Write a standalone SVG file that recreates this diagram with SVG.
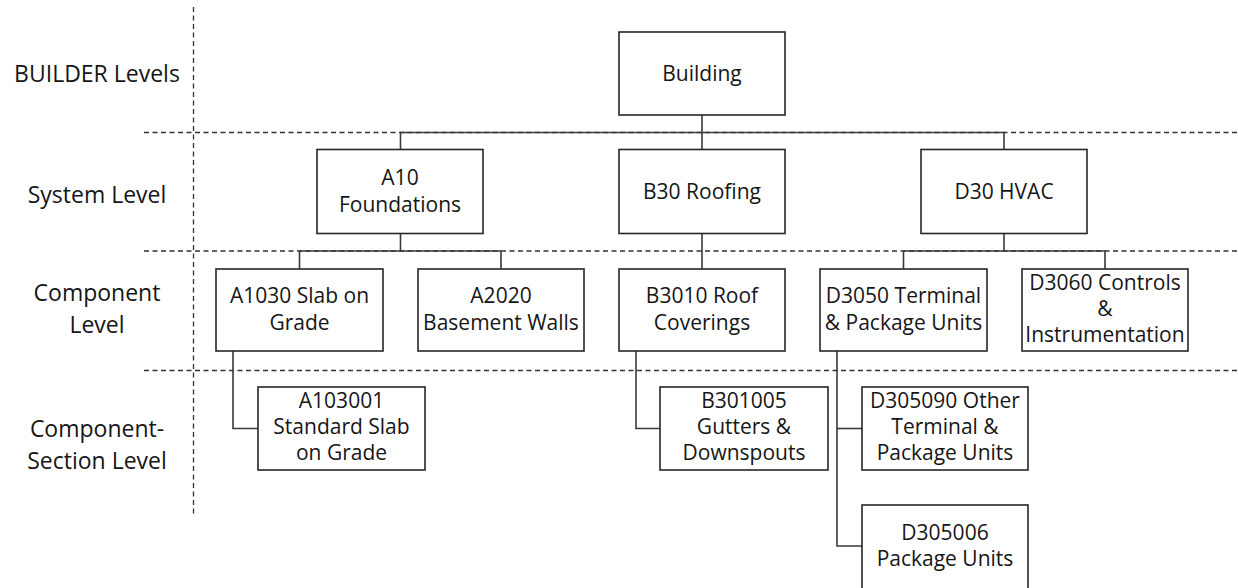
<svg xmlns="http://www.w3.org/2000/svg" width="1238" height="588" viewBox="0 0 1238 588">
<style>
.bg{fill:#ffffff}
.guide{stroke:#333333;stroke-width:1.3;stroke-dasharray:5 3.5;fill:none}
.conn{stroke:#3a3a3a;stroke-width:1.6;fill:none}
.box{fill:#ffffff;stroke:#262626;stroke-width:1.6}
.t{font-family:"Open Sans","Noto Sans","Liberation Sans",sans-serif;font-size:21px;fill:#161616;text-anchor:middle}
.lbl{font-family:"Open Sans","Noto Sans","Liberation Sans",sans-serif;font-size:23px;fill:#161616;text-anchor:middle}
</style>
<rect class="bg" x="0" y="0" width="1238" height="588"/>
<g id="guides">
<line class="guide" x1="193.5" y1="7" x2="193.5" y2="514"/>
<line class="guide" x1="144" y1="132.5" x2="1238" y2="132.5"/>
<line class="guide" x1="144" y1="251" x2="1238" y2="251"/>
<line class="guide" x1="144" y1="370.5" x2="1238" y2="370.5"/>
</g>
<g id="level-labels">
<text class="lbl" x="97" y="82">BUILDER Levels</text>
<text class="lbl" x="97" y="203">System Level</text>
<text class="lbl" x="97" y="301">Component</text>
<text class="lbl" x="97" y="333">Level</text>
<text class="lbl" x="97" y="437">Component-</text>
<text class="lbl" x="97" y="469">Section Level</text>
</g>
<g id="connectors">
<path class="conn" d="M702 115 V149.5"/>
<path class="conn" d="M400.5 149.5 V132.5 H1004 V149.5"/>
<path class="conn" d="M400.5 233.5 V251"/>
<path class="conn" d="M299.5 269 V251 H501 V269"/>
<path class="conn" d="M702 233.5 V269"/>
<path class="conn" d="M1004 233.5 V251"/>
<path class="conn" d="M903.5 269 V251 H1105 V269"/>
<path class="conn" d="M233 351 V428.5 H258"/>
<path class="conn" d="M636 351 V428.5 H660"/>
<path class="conn" d="M837 351 V546 H862"/>
<path class="conn" d="M837 428.5 H862"/>
</g>
<g id="building">
<rect class="box" x="619" y="32" width="166" height="83"/>
<text class="t" x="702" y="81">Building</text>
</g>
<g id="a10">
<rect class="box" x="317" y="149.5" width="166" height="84"/>
<text class="t" x="400" y="185">A10</text>
<text class="t" x="400" y="211.5">Foundations</text>
</g>
<g id="b30">
<rect class="box" x="619" y="149.5" width="166" height="84"/>
<text class="t" x="702" y="199">B30 Roofing</text>
</g>
<g id="d30">
<rect class="box" x="921" y="149.5" width="166" height="84"/>
<text class="t" x="1004" y="199">D30 HVAC</text>
</g>
<g id="a1030">
<rect class="box" x="216" y="269" width="167" height="82"/>
<text class="t" x="299.5" y="303">A1030 Slab on</text>
<text class="t" x="299.5" y="329.5">Grade</text>
</g>
<g id="a2020">
<rect class="box" x="418" y="269" width="166" height="82"/>
<text class="t" x="501" y="303">A2020</text>
<text class="t" x="501" y="329.5">Basement Walls</text>
</g>
<g id="b3010">
<rect class="box" x="619" y="269" width="166" height="82"/>
<text class="t" x="702" y="303">B3010 Roof</text>
<text class="t" x="702" y="329.5">Coverings</text>
</g>
<g id="d3050">
<rect class="box" x="820" y="269" width="167" height="82"/>
<text class="t" x="903.5" y="303">D3050 Terminal</text>
<text class="t" x="903.5" y="329.5">&amp; Package Units</text>
</g>
<g id="d3060">
<rect class="box" x="1022" y="269" width="166" height="82"/>
<text class="t" x="1105" y="289.5">D3060 Controls</text>
<text class="t" x="1105" y="315.5">&amp;</text>
<text class="t" x="1105" y="341.5">Instrumentation</text>
</g>
<g id="a103001">
<rect class="box" x="258" y="387" width="167" height="83"/>
<text class="t" x="341.5" y="407.5">A103001</text>
<text class="t" x="341.5" y="433.5">Standard Slab</text>
<text class="t" x="341.5" y="459.5">on Grade</text>
</g>
<g id="b301005">
<rect class="box" x="660" y="387" width="168" height="83"/>
<text class="t" x="744" y="407.5">B301005</text>
<text class="t" x="744" y="433.5">Gutters &amp;</text>
<text class="t" x="744" y="459.5">Downspouts</text>
</g>
<g id="d305090">
<rect class="box" x="862" y="387" width="166" height="83"/>
<text class="t" x="945" y="407.5">D305090 Other</text>
<text class="t" x="945" y="433.5">Terminal &amp;</text>
<text class="t" x="945" y="459.5">Package Units</text>
</g>
<g id="d305006">
<rect class="box" x="862" y="505" width="166" height="90"/>
<text class="t" x="945" y="540">D305006</text>
<text class="t" x="945" y="566">Package Units</text>
</g>
</svg>
